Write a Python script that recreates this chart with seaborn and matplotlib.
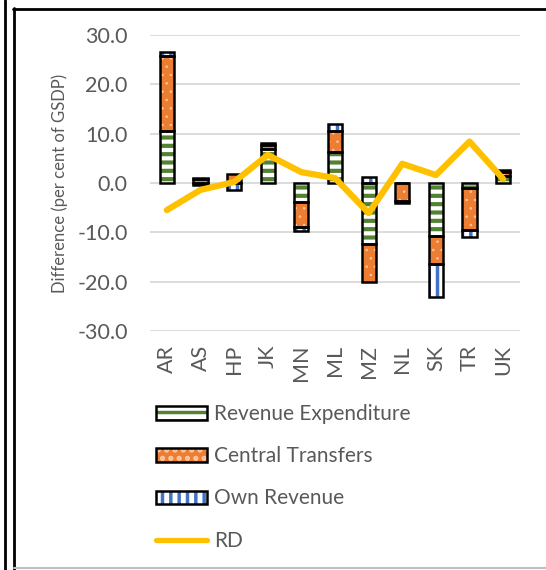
import matplotlib
matplotlib.use("Agg")
import matplotlib.pyplot as plt
from matplotlib.lines import Line2D
from matplotlib.patches import Patch
import numpy as np
import seaborn as sns

# ===============================
# data (per cent of GSDP)
# ===============================
states = ['AR', 'AS', 'HP', 'JK', 'MN', 'ML', 'MZ', 'NL', 'SK', 'TR', 'UK']
rev_exp = [10.5, -0.5, 0.1, 6.9, -3.8, 6.2, -12.4, -0.1, -10.7, -1.1, 1.5]
central = [15.3, 0.8, 1.7, 0.9, -5.2, 4.3, -7.6, -3.6, -5.8, -8.4, 0.7]
own_rev = [0.7, 0.2, -1.5, 0.4, -0.8, 1.5, 1.2, -0.3, -6.6, -1.4, 0.4]
rd = [-5.5, -1.4, 0.2, 5.7, 2.2, 1.0, -6.1, 3.9, 1.6, 8.4, 0.8]

# ===============================
# style
# ===============================
sns.set_theme(style="white")
plt.rcParams['font.family'] = ['Lato', 'DejaVu Sans']
plt.rcParams['hatch.linewidth'] = 2.5
txt = '#595959'

# name, values, fill, hatch colour, hatch, hatch width
series = [
    ('Revenue Expenditure', rev_exp, 'white', '#548235', '--', 3.0),
    ('Central Transfers', central, '#ED7D31', '#F8C9A6', '..', 0.6),
    ('Own Revenue', own_rev, 'white', '#4472C4', '||', 2.5),
]


def set_hlw(artist, lw):
    if hasattr(artist, 'set_hatch_linewidth'):
        artist.set_hatch_linewidth(lw)


fig = plt.figure(figsize=(5.46, 5.70), dpi=100)
ax = fig.add_axes([150 / 546, 1 - 331 / 570, 370 / 546, 296 / 570])

x = np.arange(len(states))
w = 0.42
pos_base = np.zeros(len(states))
neg_base = np.zeros(len(states))
handles = []
for name, vals, face, hcol, hatch, hlw in series:
    vals = np.array(vals)
    bottom = np.where(vals >= 0, pos_base, neg_base)
    bars = ax.bar(x, vals, w, bottom=bottom, color=face, edgecolor=hcol,
                  hatch=hatch, linewidth=0, zorder=2)
    for b in bars:
        set_hlw(b, hlw)
    ax.bar(x, vals, w, bottom=bottom, facecolor='none', edgecolor='black',
           linewidth=1.8, zorder=3)
    pos_base += np.where(vals >= 0, vals, 0)
    neg_base += np.where(vals < 0, vals, 0)
    p = Patch(facecolor=face, edgecolor=hcol, hatch=hatch, linewidth=0)
    set_hlw(p, hlw)
    handles.append((p, Patch(facecolor='none', edgecolor='black', linewidth=1.8)))

sns.lineplot(x=x, y=rd, ax=ax, color='#FFC000', linewidth=4.5, sort=False,
             zorder=4, solid_capstyle='round', solid_joinstyle='round')
handles.append(Line2D([], [], color='#FFC000', linewidth=3.8, solid_capstyle='round'))

ax.set_xlim(-0.5, len(states) - 0.5)
ax.set_ylim(-30, 30)
ax.set_yticks(np.arange(-30, 31, 10))
ax.set_yticklabels([f"{v:.1f}" for v in np.arange(-30, 31, 10)])
ax.set_xticks(x)
ax.set_xticklabels(states, rotation=90)
ax.tick_params(axis='y', length=0, pad=16, labelsize=15.5, labelcolor=txt)
ax.tick_params(axis='x', length=0, pad=10, labelsize=15.5, labelcolor=txt)
ax.yaxis.grid(True, color='#D9D9D9', linewidth=1.3, zorder=0)
ax.set_axisbelow(True)
for s in ax.spines.values():
    s.set_visible(False)
ax.set_ylabel('Difference (per cent of GSDP)', fontsize=12, color=txt)
ax.yaxis.set_label_coords(-0.222, 0.5)

fig.legend(handles, [s[0] for s in series] + ['RD'],
           loc='upper left', bbox_to_anchor=(148 / 546, 1 - 396 / 570),
           frameon=False, fontsize=15, labelcolor=txt,
           handlelength=2.45, handleheight=0.6, handletextpad=0.3,
           labelspacing=1.06, borderaxespad=0)

# frame lines around the picture
fig.add_artist(Line2D([5 / 546, 5 / 546], [0, 1], color='black', linewidth=2))
fig.add_artist(Line2D([14 / 546, 14 / 546], [0, 1 - 8 / 570], color='black', linewidth=2))
fig.add_artist(Line2D([13 / 546, 1], [1 - 9 / 570, 1 - 9 / 570], color='black', linewidth=2))
fig.add_artist(Line2D([14 / 546, 1], [1 - 568 / 570, 1 - 568 / 570], color='#BFBFBF', linewidth=1.5))

fig.savefig('out.png', dpi=100)
plt.close(fig)
